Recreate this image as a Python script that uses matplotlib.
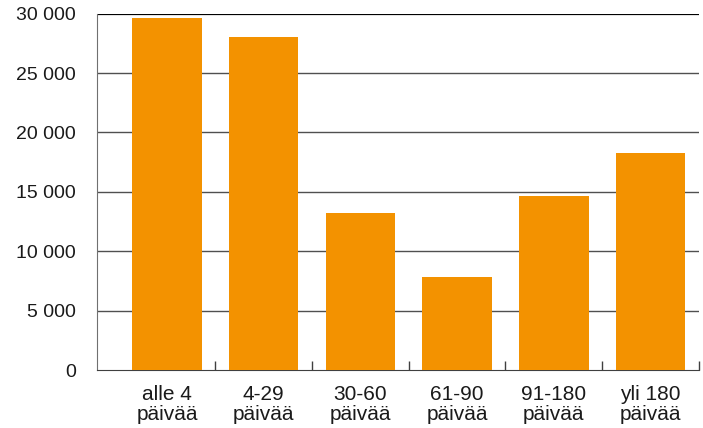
import matplotlib.pyplot as plt
import numpy as np

categories = ["alle 4\npäivää", "4-29\npäivää", "30-60\npäivää",
              "61-90\npäivää", "91-180\npäivää", "yli 180\npäivää"]
values = [29600, 28050, 13230, 7840, 14650, 18300]
yticks = [0, 5000, 10000, 15000, 20000, 25000, 30000]
ytick_labels = ["0", "5 000", "10 000", "15 000", "20 000", "25 000", "30 000"]


def main():
    plt.rcParams["font.family"] = ["Liberation Sans", "DejaVu Sans"]

    fig = plt.figure(figsize=(7.03, 4.28), dpi=100)
    ax = fig.add_axes([0.138, 0.1355, 0.8562, 0.8325])

    x = np.arange(len(categories))
    ax.bar(x, values, width=0.72, color="#F39200", zorder=3)

    # horizontal grid, top line heavier
    for yv in yticks[1:-1]:
        ax.axhline(yv, color="#505050", lw=1.0, zorder=1)
    ax.axhline(yticks[-1], color="black", lw=1.6, zorder=1)

    ax.set_ylim(0, 30000)
    ax.set_xlim(-0.723, 5.5)

    ax.set_yticks(yticks)
    ax.set_yticklabels(ytick_labels)
    ax.set_xticks(x)
    ax.set_xticklabels(categories, linespacing=1.06)
    ax.tick_params(axis="both", length=0, colors="#1a1a1a")
    ax.tick_params(axis="y", pad=15, labelsize=14)
    ax.tick_params(axis="x", pad=11, labelsize=15)

    # small separators between categories
    ax.set_xticks(np.arange(0.5, len(categories), 1.0), minor=True)
    ax.tick_params(axis="x", which="minor", direction="in", length=6.5,
                   width=1.0, color="#404040")

    for side in ["top", "right"]:
        ax.spines[side].set_visible(False)
    ax.spines["left"].set_color("#707070")
    ax.spines["bottom"].set_color("#404040")

    fig.savefig("out.png", dpi=100)


if __name__ == "__main__":
    main()
